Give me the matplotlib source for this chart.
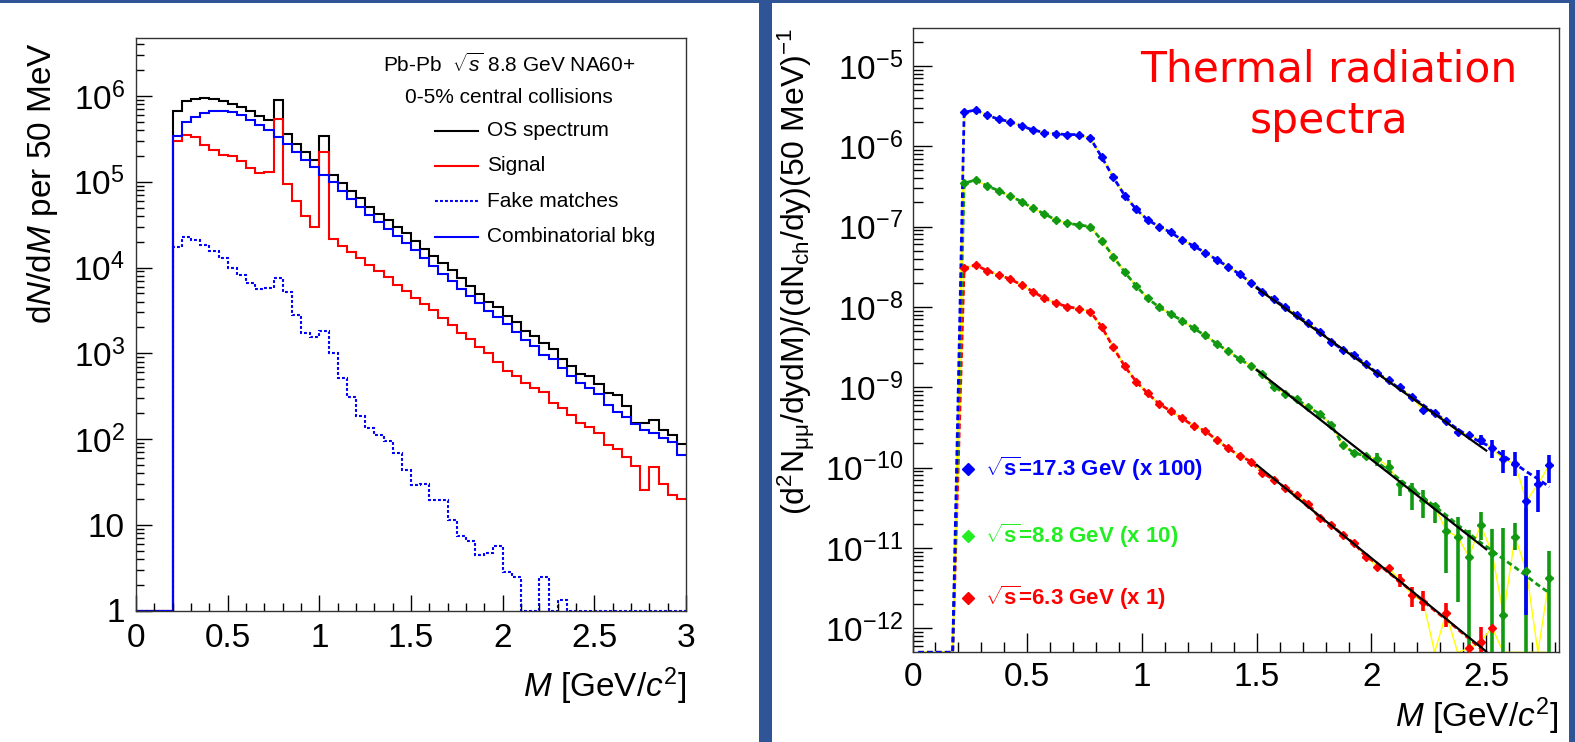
import numpy as np
import matplotlib.pyplot as plt
from matplotlib.patches import Rectangle
from matplotlib.lines import Line2D
from matplotlib.ticker import LogLocator, MultipleLocator, FuncFormatter, NullFormatter

plt.rcParams['font.family'] = ['Liberation Sans', 'DejaVu Sans']
plt.rcParams['mathtext.fontset'] = 'custom'
plt.rcParams['mathtext.rm'] = 'Liberation Sans'
plt.rcParams['mathtext.it'] = 'Liberation Sans:italic'
plt.rcParams['mathtext.bf'] = 'Liberation Sans:bold'

# ---------------- left panel: histograms, 50 MeV bins from 0 to 3 GeV
edges = np.round(np.arange(0, 3.0001, 0.05), 3)

os_spec = [1, 1, 1, 1,
           6.64e5, 8.81e5, 9.23e5, 9.40e5, 9.23e5, 8.81e5, 8.13e5, 7.43e5, 6.64e5, 5.85e5,
           5.25e5, 8.97e5, 3.63e5, 2.75e5, 2.20e5, 1.79e5, 3.41e5, 1.21e5, 9.73e4, 7.85e4,
           6.46e4, 5.11e4, 4.17e4, 3.55e4, 2.95e4, 2.51e4, 2.04e4, 1.64e4, 1.35e4, 1.12e4,
           9.44e3, 7.50e3, 6.10e3, 4.90e3, 3.98e3, 3.43e3, 2.72e3, 2.33e3, 1.83e3, 1.58e3,
           1.33e3, 1.11e3, 851, 716, 573, 543, 438, 340, 326, 242,
           152, 155, 166, 129, 111, 86.5]
signal = [1, 1, 1, 1,
          3.01e5, 3.51e5, 3.30e5, 2.66e5, 2.37e5, 2.05e5, 1.98e5, 1.73e5, 1.45e5, 1.26e5,
          1.30e5, 5.45e5, 9.51e4, 5.92e4, 3.95e4, 2.94e4, 2.22e5, 2.15e4, 1.77e4, 1.50e4,
          1.29e4, 1.08e4, 9.20e3, 7.69e3, 6.31e3, 5.37e3, 4.42e3, 3.76e3, 3.16e3, 2.57e3,
          2.14e3, 1.71e3, 1.46e3, 1.17e3, 1.02e3, 794, 625, 543, 446, 389,
          356, 261, 228, 190, 155, 137, 116, 85.1, 75.7, 61.1,
          48.4, 25.4, 46.8, 30.2, 22.4, 20.0]
fake = [1, 1, 1, 1,
        1.73e4, 2.27e4, 2.11e4, 1.81e4, 1.54e4, 1.29e4, 1.00e4, 8.09e3, 6.59e3, 5.66e3,
        5.75e3, 7.53e3, 5.18e3, 2.82e3, 1.71e3, 1.53e3, 1.83e3, 1.00e3, 509, 312,
        187, 133, 111, 95.5, 67.9, 43.4, 29.0, 29.5, 19.4, 19.4,
        11.4, 7.40, 6.52, 4.44, 4.63, 5.65, 2.84, 2.48, 1, 1,
        2.48, 1, 1.34, 1, 1, 1, 1, 1, 1, 1,
        1, 1, 1, 1, 1, 1]
comb = [1, 1, 1, 1,
        3.42e5, 4.93e5, 5.69e5, 6.34e5, 6.75e5, 6.75e5, 6.52e5, 5.96e5, 5.20e5, 4.55e5,
        4.02e5, 3.30e5, 2.76e5, 2.20e5, 1.81e5, 1.48e5, 1.21e5, 9.84e4, 7.85e4, 6.28e4,
        5.02e4, 4.12e4, 3.44e4, 2.83e4, 2.31e4, 1.93e4, 1.60e4, 1.29e4, 1.03e4, 8.39e3,
        7.00e3, 5.66e3, 4.61e3, 3.82e3, 3.13e3, 2.67e3, 2.19e3, 1.79e3, 1.43e3, 1.22e3,
        955, 851, 667, 543, 449, 398, 331, 251, 209, 182,
        151, 129, 116, 104, 93.1, 65.0]

# ---------------- right panel: thermal spectra, points every 50 MeV
mass = np.round(0.025 + 0.05 * np.arange(56), 3)

s173 = [0, 0, 0, 0,
        2.65e-6, 2.83e-6, 2.45e-6, 2.17e-6, 2.03e-6, 1.79e-6, 1.60e-6, 1.48e-6, 1.43e-6, 1.40e-6,
        1.40e-6, 1.26e-6, 7.29e-7, 4.11e-7, 2.43e-7, 1.64e-7, 1.21e-7, 1.00e-7, 8.49e-8, 6.82e-8,
        5.74e-8, 4.76e-8, 3.88e-8, 3.18e-8, 2.56e-8, 2.01e-8, 1.55e-8, 1.24e-8, 9.91e-9, 7.94e-9,
        6.27e-9, 4.93e-9, 3.70e-9, 2.92e-9, 2.53e-9, 1.93e-9, 1.49e-9, 1.23e-9, 1.00e-9, 7.52e-10,
        5.22e-10, 4.84e-10, 3.85e-10, 2.81e-10, 2.55e-10, 2.21e-10, 1.74e-10, 1.27e-10, 1.11e-10,
        3.85e-11, 6.21e-11, 1.08e-10]
s88 = [0, 0, 0, 0,
       3.47e-7, 3.81e-7, 3.21e-7, 2.81e-7, 2.41e-7, 2.05e-7, 1.69e-7, 1.44e-7, 1.21e-7, 1.10e-7,
       1.05e-7, 1.00e-7, 6.70e-8, 4.23e-8, 2.70e-8, 1.82e-8, 1.28e-8, 9.91e-9, 8.17e-9, 6.76e-9,
       5.42e-9, 4.42e-9, 3.50e-9, 2.81e-9, 2.24e-9, 1.85e-9, 1.47e-9, 1.02e-9, 8.26e-10, 7.10e-10,
       5.64e-10, 4.66e-10, 3.40e-10, 1.91e-10, 1.52e-10, 1.39e-10, 1.29e-10, 1.03e-10, 6.31e-11,
       5.19e-11, 3.95e-11, 3.33e-11, 1.64e-11, 1.38e-11, 7.78e-12, 1.93e-11, 8.73e-12, 1.46e-12,
       1.38e-11, 5.21e-12, 0, 4.19e-12]
s63 = [0, 0, 0, 0,
       3.03e-8, 3.33e-8, 2.83e-8, 2.50e-8, 2.23e-8, 1.88e-8, 1.55e-8, 1.28e-8, 1.11e-8, 1.01e-8,
       9.48e-9, 8.75e-9, 5.62e-9, 3.13e-9, 1.82e-9, 1.17e-9, 8.41e-10, 6.19e-10, 5.07e-10, 4.11e-10,
       3.30e-10, 2.88e-10, 2.21e-10, 1.74e-10, 1.41e-10, 1.19e-10, 8.57e-11, 7.08e-11, 5.60e-11,
       4.56e-11, 3.52e-11, 2.34e-11, 1.93e-11, 1.45e-11, 1.14e-11, 7.80e-12, 5.85e-12, 5.57e-12,
       3.99e-12, 2.60e-12, 2.15e-12, 0, 1.53e-12, 0, 5.62e-13, 6.76e-13, 1.02e-12, 0,
       0, 0, 0, 0]

# smooth model curves above 2 GeV (points from 2.025 to 2.775)
s173_model_tail = [1.51e-9, 1.20e-9, 9.55e-10, 7.59e-10, 6.03e-10, 4.79e-10, 3.80e-10, 3.02e-10,
                   2.45e-10, 2.09e-10, 1.78e-10, 1.41e-10, 1.12e-10, 8.91e-11, 7.24e-11, 5.75e-11]
s88_model_tail = [1.17e-10, 9.12e-11, 7.08e-11, 5.50e-11, 4.27e-11, 3.31e-11, 2.57e-11, 1.95e-11,
                  1.51e-11, 1.17e-11, 9.33e-12, 7.24e-12, 5.75e-12, 4.47e-12, 3.47e-12, 2.75e-12]
s63_model_tail = [6.46e-12, 4.90e-12, 3.80e-12, 2.88e-12, 2.19e-12, 1.66e-12, 1.29e-12, 9.77e-13,
                  7.41e-13, 5.62e-13, 4.27e-13, 3.31e-13, 2.51e-13, 1.91e-13, 1.45e-13, 1.12e-13]

# exponential fits between 1.5 and 2.5 GeV
fit_x = [1.5, 2.5]
s173_fit = [1.71e-8, 1.63e-10]
s88_fit = [1.64e-9, 9.62e-12]
s63_fit = [1.08e-10, 5.13e-13]

# large error bars at high mass
s173_bar_x = [2.475, 2.525, 2.575, 2.625, 2.675, 2.725, 2.775]
s173_bar_hi = [2.57e-10, 2.21e-10, 1.66e-10, 1.55e-10, 7.76e-11, 9.33e-11, 1.45e-10]
s173_bar_lo = [1.91e-10, 1.31e-10, 8.51e-11, 7.94e-11, 1.48e-12, 2.82e-11, 6.46e-11]
s88_bar_x = [2.025, 2.075, 2.125, 2.175, 2.225, 2.275, 2.325, 2.375, 2.425, 2.475, 2.525,
             2.575, 2.625, 2.675, 2.775]
s88_bar_hi = [1.51e-10, 1.26e-10, 7.08e-11, 6.46e-11, 5.25e-11, 3.63e-11, 2.45e-11, 2.45e-11,
              1.66e-11, 2.82e-11, 1.74e-11, 1.78e-11, 2.04e-11, 3.16e-11, 9.12e-12]
s88_bar_lo = [1.05e-10, 8.51e-11, 4.37e-11, 2.95e-11, 2.34e-11, 2.04e-11, 4.90e-12, 2.14e-12,
              1e-13, 1.26e-11, 1e-13, 1e-13, 9.33e-12, 1e-13, 1e-13]
s63_bar_x = [2.125, 2.175, 2.225, 2.325, 2.475]
s63_bar_hi = [4.68e-12, 3.31e-12, 2.88e-12, 2.04e-12, 1.05e-12]
s63_bar_lo = [3.31e-12, 1.86e-12, 1.62e-12, 1.05e-12, 1e-13]

W, H = 1575, 742
border = '#2f5597'


def fx(px):
    return px / W


def fy(py):
    return 1 - py / H


def box(x0, y0, x1, y1):
    return [x0 / W, 1 - y1 / H, (x1 - x0) / W, (y1 - y0) / H]


fig = plt.figure(figsize=(W / 100, H / 100), dpi=100)
fig.patch.set_facecolor('white')

for r in [(0, 0, W, 2.5), (759, 0, 772, H), (1569, 0, W, H)]:
    fig.add_artist(Rectangle((fx(r[0]), fy(r[3])), (r[2] - r[0]) / W, (r[3] - r[1]) / H,
                             transform=fig.transFigure, color=border, lw=0))


def style_axes(ax, major_len, minor_len):
    ax.tick_params(which='both', direction='in', top=False, right=False, labelsize=24)
    ax.tick_params(which='major', length=major_len, width=1)
    ax.tick_params(which='minor', length=minor_len, width=1)
    for s in ax.spines.values():
        s.set_linewidth(1.0)
        s.set_color('#333333')


# ---------------- left
axL = fig.add_axes(box(136, 38, 686, 610.5))
axL.set_yscale('log')
axL.stairs(os_spec, edges, baseline=None, color='black', lw=1.5)
axL.stairs(signal, edges, baseline=None, color='#ff0000', lw=1.5)
axL.stairs(fake, edges, baseline=None, color='#0000ff', lw=1.5, linestyle=(0, (1.4, 1.0)))
axL.stairs(comb, edges, baseline=None, color='#0000ff', lw=1.5)
axL.set_xlim(0, 3)
axL.set_ylim(1, 4.75e6)
axL.xaxis.set_major_locator(MultipleLocator(0.5))
axL.xaxis.set_minor_locator(MultipleLocator(0.1))
axL.xaxis.set_major_formatter(FuncFormatter(lambda v, _: f'{v:g}'))
axL.yaxis.set_major_locator(LogLocator(base=10, numticks=20))
axL.yaxis.set_minor_locator(LogLocator(base=10, subs=np.arange(2, 10), numticks=20))
axL.yaxis.set_minor_formatter(NullFormatter())


def left_fmt(v, _):
    n = int(round(np.log10(v)))
    if n == 0:
        return '1'
    if n == 1:
        return '10'
    return rf'$10^{{{n}}}$'


axL.yaxis.set_major_formatter(FuncFormatter(left_fmt))
style_axes(axL, 11.5, 6)
axL.tick_params(axis='x', pad=9)
axL.tick_params(axis='y', pad=8)

fig.text(fx(43), fy(42), r'd$N$/d$M$ per 50 MeV', rotation=90, ha='center', va='top', fontsize=24)
fig.text(fx(686), fy(686), r'$M$ [GeV/$c^{2}$]', ha='right', va='center', fontsize=24)

fig.text(fx(509.5), fy(64.7), r'Pb-Pb  $\sqrt{s}$ 8.8 GeV NA60+', ha='center', va='center', fontsize=15)
fig.text(fx(508.7), fy(97.3), '0-5% central collisions', ha='center', va='center', fontsize=15)
legend_rows = [('OS spectrum', 'black', '-', 130.7),
               ('Signal', '#ff0000', '-', 165.7),
               ('Fake matches', '#0000ff', (0, (1.4, 1.0)), 201.3),
               ('Combinatorial bkg', '#0000ff', '-', 236.7)]
for label, col, ls, yy in legend_rows:
    fig.add_artist(Line2D([fx(434.8), fx(478)], [fy(yy), fy(yy)], transform=fig.transFigure,
                          color=col, lw=1.5, linestyle=ls))
    fig.text(fx(486.7), fy(yy), label, ha='left', va='center', fontsize=15)

# ---------------- right
axR = fig.add_axes(box(912.5, 28, 1559, 652.3))
axR.set_yscale('log')
ymin, ymax = 5.02e-13, 2.97e-5
axR.set_xlim(0, 2.817)
axR.set_ylim(ymin, ymax)

series = [
    (s63, s63_model_tail, s63_fit, s63_bar_x, s63_bar_lo, s63_bar_hi, '#ff0000'),
    (s88, s88_model_tail, s88_fit, s88_bar_x, s88_bar_lo, s88_bar_hi, '#119a11'),
    (s173, s173_model_tail, s173_fit, s173_bar_x, s173_bar_lo, s173_bar_hi, '#0000ff'),
]
for pts, tail, fit, bx, blo, bhi, col in series:
    pts = np.array(pts, dtype=float)
    axR.plot(mass, np.where(pts > 0, pts, ymin), color='#ffff00', lw=1.0, zorder=2)
for pts, tail, fit, bx, blo, bhi, col in series:
    pts = np.array(pts, dtype=float)
    model = np.concatenate([pts[:40], tail])
    model = np.where(model > 0, model, ymin)
    axR.plot(mass, model, color=col, lw=2.0, linestyle=(0, (2.0, 1.2)), zorder=3)
for pts, tail, fit, bx, blo, bhi, col in series:
    pts = np.array(pts, dtype=float)
    ok = pts > 0
    axR.vlines(bx, blo, bhi, color=col, lw=2.6, zorder=4)
    axR.errorbar(mass[ok], pts[ok], xerr=0.015, fmt='D', ms=3.8, color=col, mec=col,
                 elinewidth=1.8, capsize=0, zorder=5)
    axR.plot(fit_x, fit, color='black', lw=1.6, zorder=6)

axR.xaxis.set_major_locator(MultipleLocator(0.5))
axR.xaxis.set_minor_locator(MultipleLocator(0.1))
axR.xaxis.set_major_formatter(FuncFormatter(lambda v, _: f'{v:g}'))
axR.yaxis.set_major_locator(LogLocator(base=10, numticks=20))
axR.yaxis.set_minor_locator(LogLocator(base=10, subs=np.arange(2, 10), numticks=20))
axR.yaxis.set_minor_formatter(NullFormatter())
axR.yaxis.set_major_formatter(FuncFormatter(lambda v, _: rf'$10^{{{int(round(np.log10(v)))}}}$'))
style_axes(axR, 14, 7)
axR.tick_params(axis='x', pad=7)
axR.tick_params(axis='y', pad=7)

fig.text(fx(796), fy(28),
         r'(d$^{2}$N$_{\mathrm{μμ}}$/dydM)/(dN$_{\mathrm{ch}}$/dy)(50 MeV)$^{-1}$',
         rotation=90, ha='center', va='top', fontsize=23)
fig.text(fx(1558), fy(716), r'$M$ [GeV/$c^{2}$]', ha='right', va='center', fontsize=24)

fig.text(fx(1329), fy(70), 'Thermal radiation', color='#ff0000', ha='center', va='center',
         fontsize=30.5, family='DejaVu Sans')
fig.text(fx(1329), fy(121), 'spectra', color='#ff0000', ha='center', va='center',
         fontsize=30.5, family='DejaVu Sans')

legend_right = [(r'$\sqrt{\mathbf{s}}$=17.3 GeV (x 100)', '#0000ff', 469),
                (r'$\sqrt{\mathbf{s}}$=8.8 GeV (x 10)', '#22ee22', 535.5),
                (r'$\sqrt{\mathbf{s}}$=6.3 GeV (x 1)', '#ff0000', 598)]
for label, col, yy in legend_right:
    fig.add_artist(Line2D([fx(968.3)], [fy(yy)], transform=fig.transFigure, marker='D',
                          ms=6, color=col, lw=0))
    fig.text(fx(985), fy(yy), label, color=col, ha='left', va='center', fontsize=16,
             fontweight='bold')

fig.savefig('out.png', dpi=100)
